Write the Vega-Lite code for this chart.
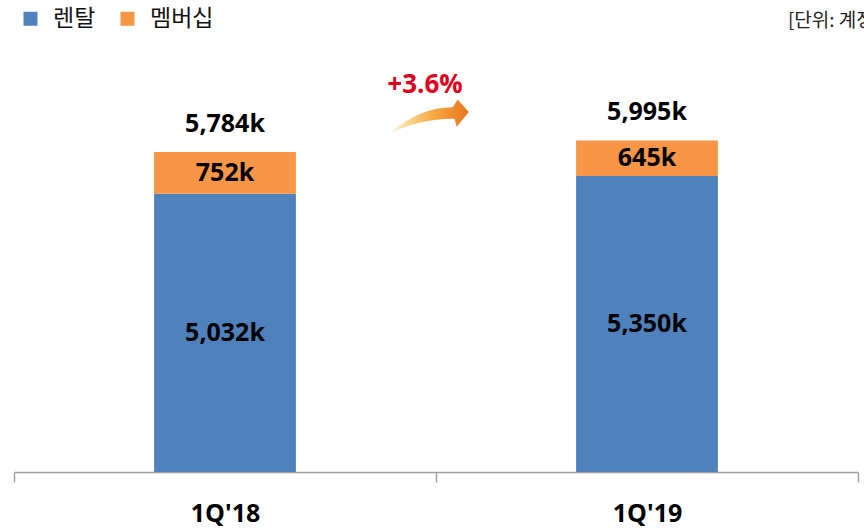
{
  "$schema": "https://vega.github.io/schema/vega-lite/v6.json",
  "autosize": "none",
  "width": 844,
  "height": 422,
  "padding": {"left": 14, "top": 50, "right": 6, "bottom": 56},
  "background": "white",
  "config": {
    "view": {"stroke": null},
    "font": "Open Sans"
  },
  "datasets": {
    "bars": [
      {"q": "1Q'18", "type": "렌탈", "v": 5032, "label": "5,032k", "ord": 1},
      {"q": "1Q'18", "type": "멤버십", "v": 752, "label": "752k", "ord": 2},
      {"q": "1Q'19", "type": "렌탈", "v": 5350, "label": "5,350k", "ord": 1},
      {"q": "1Q'19", "type": "멤버십", "v": 645, "label": "645k", "ord": 2}
    ],
    "totals": [
      {"q": "1Q'18", "total": 5784, "label": "5,784k"},
      {"q": "1Q'19", "total": 5995, "label": "5,995k"}
    ]
  },
  "encoding": {
    "x": {
      "field": "q",
      "type": "nominal",
      "sort": ["1Q'18", "1Q'19"],
      "scale": {"domain": ["1Q'18", "1Q'19"], "paddingInner": 0, "paddingOuter": 0},
      "axis": {
        "title": null,
        "labelAngle": 0,
        "labelFont": "Open Sans",
        "labelFontWeight": "bold",
        "labelFontSize": 25,
        "labelColor": "#000000",
        "labelPadding": 19,
        "tickBand": "extent",
        "tickSize": 10,
        "tickColor": "#a0a0a0",
        "tickWidth": 1.5,
        "domainColor": "#a0a0a0",
        "domainWidth": 1.5,
        "grid": false
      }
    }
  },
  "layer": [
    {
      "data": {"name": "bars"},
      "mark": {"type": "bar", "width": {"band": 0.336}},
      "encoding": {
        "y": {"field": "v", "type": "quantitative", "stack": "zero", "scale": {"domain": [0, 7630], "nice": false}, "axis": null},
        "color": {
          "field": "type",
          "type": "nominal",
          "scale": {"domain": ["렌탈", "멤버십"], "range": ["#4f81bd", "#f79646"]},
          "legend": {
            "title": null,
            "orient": "none",
            "legendX": 5,
            "legendY": -43,
            "direction": "horizontal",
            "symbolType": "square",
            "symbolSize": 196,
            "symbolStrokeWidth": 0,
            "labelFont": "Noto Sans CJK KR",
            "labelFontSize": 23,
            "labelColor": "#111111",
            "labelOffset": 11,
            "columnPadding": 20
          }
        },
        "order": {"field": "ord", "type": "quantitative"}
      }
    },
    {
      "data": {"name": "bars"},
      "mark": {"type": "text", "font": "Open Sans", "fontWeight": "bold", "fontSize": 25, "color": "#000000", "baseline": "middle"},
      "encoding": {
        "y": {"field": "v", "type": "quantitative", "stack": "zero", "bandPosition": 0.5},
        "detail": {"field": "type"},
        "order": {"field": "ord", "type": "quantitative"},
        "text": {"field": "label"}
      }
    },
    {
      "data": {"name": "totals"},
      "mark": {"type": "text", "font": "Open Sans", "fontWeight": "bold", "fontSize": 25, "color": "#000000", "baseline": "middle", "dy": -28},
      "encoding": {
        "y": {"field": "total", "type": "quantitative"},
        "text": {"field": "label"}
      }
    },
    {
      "data": {"values": [{"label": "+3.6%"}]},
      "mark": {"type": "text", "font": "Open Sans", "fontWeight": "bold", "fontSize": 26, "color": "#e0001b", "baseline": "middle", "align": "center"},
      "encoding": {
        "x": {"datum": "1Q'18", "bandPosition": 0.974},
        "y": {"datum": 6990},
        "text": {"field": "label"}
      }
    },
    {
      "data": {"values": [{"label": "arrow"}]},
      "mark": {
        "type": "point",
        "filled": true,
        "shape": "M-0.95,0.375 Q-0.2,-0.27 0.62,-0.27 L0.74,-0.46 L1.02,-0.15 L0.72,0.22 L0.66,0.02 Q-0.1,0 -0.95,0.375 Z",
        "size": 6400,
        "opacity": 1,
        "strokeWidth": 0,
        "fill": {"gradient": "linear", "x1": 0, "y1": 0, "x2": 1, "y2": 0, "stops": [{"offset": 0, "color": "#fff6d8"}, {"offset": 0.5, "color": "#f6b04a"}, {"offset": 1, "color": "#e8741a"}]}
      },
      "encoding": {
        "x": {"datum": "1Q'18", "bandPosition": 0.981},
        "y": {"datum": 6401}
      }
    },
    {
      "data": {"values": [{"label": "[단위: 계정]"}]},
      "mark": {"type": "text", "font": "Noto Sans CJK KR", "fontSize": 19, "color": "#222222", "baseline": "middle", "align": "left"},
      "encoding": {
        "x": {"datum": "1Q'19", "bandPosition": 0.834},
        "y": {"datum": 8155},
        "text": {"field": "label"}
      }
    }
  ]
}
